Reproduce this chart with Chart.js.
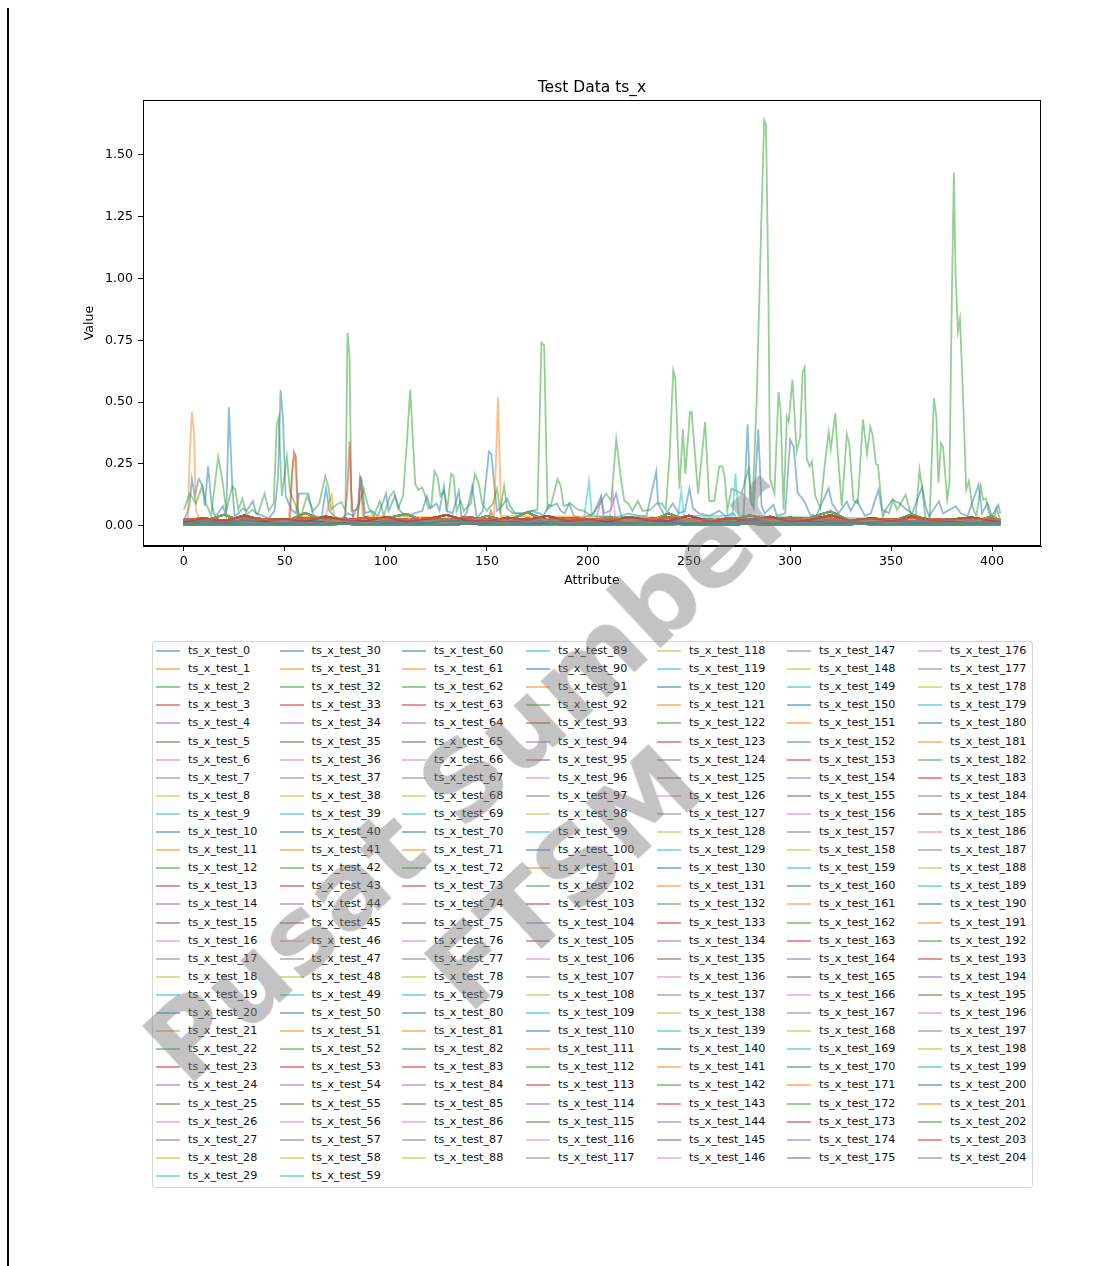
<!DOCTYPE html>
<html>
<head>
<meta charset="utf-8">
<title>Test Data ts_x</title>
<script src="https://cdn.jsdelivr.net/npm/chart.js@4/dist/chart.umd.min.js"></script>
<style>
  html, body { margin: 0; padding: 0; background: #fff; }
  #wrap { position: relative; width: 1114px; height: 1266px; overflow: hidden; background: #fff; }
  #edge { position: absolute; left: 7px; top: 8px; width: 2px; height: 1258px; background: #000; }
  #c { position: absolute; left: 0; top: 0; }
  #legend { position: absolute; left: 152px; top: 641px; width: 879px; height: 545px;
            border: 1px solid #d6d6d6; border-radius: 3px; background: #fff; }
  .lg-line { position: absolute; height: 2px; width: 24px; }
  .lg-text { position: absolute; font-family: "DejaVu Sans", sans-serif; font-size: 11.2px;
             line-height: 14px; color: #111; white-space: nowrap; }
  #mark { position: absolute; left: 517px; top: 828px; transform: translate(-50%, -50%) rotate(-43deg);
          font-family: "DejaVu Sans", sans-serif; font-weight: bold; font-size: 106px; line-height: 1.31;
          text-align: center; color: rgba(128, 128, 128, 0.47); white-space: nowrap; pointer-events: none; }
</style>
</head>
<body>
<div id="wrap">
  <div id="edge"></div>
  <canvas id="c" width="1114" height="620"></canvas>
  <div id="legend"></div>
  <div id="mark">Pusat Sumber<br>FTSM</div>
</div>
<script>
// ---- axis ticks ----
const xTicks = [0, 50, 100, 150, 200, 250, 300, 350, 400];
const yTicks = [0, 0.25, 0.5, 0.75, 1.0, 1.25, 1.5];

// ---- series names ----
const seriesCount = 205;
const seriesNames = Array.from({ length: seriesCount }, (_, i) => 'ts_x_test_' + i);

// ---- prominent series, [attribute, value] ----
const seriesGreen = [
  [0,0.065],[3,0.13],[6,0.09],[9,0.16],[11,0.09],[13.5,0.04],[17,0.28],[19,0.19],[21,0.06],[24,0.16],
  [25.5,0.145],[27,0.065],[29,0.11],[31,0.045],[34,0.065],[36.5,0.045],[40,0.13],[42,0.06],[44.5,0.09],
  [46,0.41],[47,0.44],[48.5,0.12],[51,0.28],[52.5,0.14],[55,0.09],[56,0.065],[58,0.04],[61,0.12],[64,0.06],
  [67,0.09],[70,0.2],[71.5,0.16],[73,0.065],[75.5,0.085],[78,0.095],[80,0.06],[81,0.78],[82,0.69],[83,0.06],
  [86,0.065],[89,0.15],[91.5,0.07],[94,0.04],[97,0.1],[99,0.04],[102,0.12],[104,0.14],[106,0.07],[108.5,0.12],
  [110.5,0.35],[112,0.55],[113.5,0.33],[114.5,0.17],[116,0.145],[118,0.155],[119.5,0.12],[121,0.07],[122.5,0.08],
  [124,0.22],[125.5,0.2],[127,0.12],[128.7,0.14],[130.4,0.07],[132.3,0.21],[133.5,0.2],[135,0.06],[137,0.1],
  [138.6,0.06],[142,0.09],[144,0.21],[146,0.17],[147.6,0.09],[150,0.06],[153,0.09],[155,0.15],[156.5,0.06],
  [158.5,0.16],[160,0.07],[163,0.05],[168,0.05],[171.7,0.06],[175,0.065],[177,0.74],[178.3,0.73],[180,0.065],
  [181.6,0.08],[185,0.19],[186.5,0.16],[188,0.08],[191.5,0.09],[195,0.065],[198,0.06],[201.5,0.04],[206,0.09],
  [209,0.13],[211.5,0.1],[214,0.35],[216.5,0.18],[218,0.1],[220,0.09],[222,0.06],[224.7,0.1],[227,0.06],
  [231,0.065],[234,0.09],[236.6,0.09],[238.5,0.065],[240.4,0.28],[242.2,0.63],[243.2,0.6],[245.3,0.15],
  [247,0.39],[248.2,0.21],[250.5,0.46],[251.3,0.46],[254.5,0.13],[258,0.42],[260,0.1],[262.5,0.1],[265,0.24],
  [266.5,0.24],[267.6,0.2],[269,0.06],[271,0.15],[276,0.13],[279.4,0.23],[281.4,0.08],[283.5,0.51],[285.7,1.2],
  [287.2,1.64],[288.1,1.62],[289.3,0.95],[290.1,0.19],[292.3,0.13],[294.3,0.54],[295.3,0.47],[296.8,0.065],
  [298.4,0.44],[299.3,0.42],[301.2,0.59],[303.3,0.3],[305,0.36],[306.2,0.62],[307.2,0.64],[308.3,0.27],
  [309.7,0.24],[310.8,0.26],[312.5,0.12],[315,0.07],[317.1,0.24],[319.1,0.38],[320.2,0.31],[322.4,0.455],
  [323.5,0.31],[325.6,0.08],[328.1,0.37],[329.3,0.33],[331.4,0.1],[333.5,0.09],[336.1,0.43],[338.1,0.29],
  [339.7,0.4],[340.8,0.37],[342.5,0.25],[343.5,0.245],[345.6,0.065],[349,0.05],[351,0.105],[353,0.065],
  [357.2,0.125],[359.7,0.05],[362.2,0.038],[364.1,0.227],[365.5,0.146],[367.1,0.024],[369.1,0.031],
  [371.2,0.516],[372.4,0.442],[373.4,0.173],[374.7,0.334],[375.7,0.32],[377.8,0.105],[378.9,0.173],
  [380,0.887],[381.1,1.429],[381.9,1.022],[383.1,0.786],[384.1,0.836],[385.2,0.617],[387.2,0.146],
  [388.5,0.18],[390.2,0.078],[392.2,0.038],[394.4,0.16],[395.5,0.105],[396.9,0.11],[398.5,0.05],
  [400.9,0.024],[402.1,0.071],[404,0.024]
];
const seriesBlue = [
  [0,0.017],[2.8,0.08],[4,0.19],[5.4,0.12],[7.4,0.19],[9.4,0.16],[10.4,0.08],[12,0.24],[13.7,0.09],[15.2,0.04],
  [17,0.05],[19.3,0.08],[21,0.04],[22.3,0.48],[24,0.16],[25.1,0.04],[27,0.05],[29.3,0.07],[31,0.06],[34.2,0.1],
  [35.8,0.05],[39,0.04],[42,0.03],[44.9,0.06],[46.6,0.19],[47.9,0.55],[49.1,0.43],[50.4,0.12],[53.2,0.065],
  [55.5,0.05],[57,0.13],[59.1,0.13],[61.6,0.13],[64.1,0.04],[68.2,0.035],[70.4,0.15],[72,0.06],[75,0.035],
  [78.2,0.03],[81,0.05],[84,0.04],[86.4,0.09],[87.2,0.2],[88.1,0.18],[89.7,0.05],[93,0.06],[96,0.04],
  [100.1,0.13],[101.3,0.06],[104.5,0.12],[107,0.06],[110,0.04],[114,0.05],[118,0.06],[120.3,0.12],[122,0.07],
  [125,0.09],[126.5,0.06],[128.7,0.16],[130,0.06],[133,0.05],[136.1,0.14],[137.5,0.03],[140,0.05],[142.7,0.16],
  [145,0.03],[148,0.06],[151,0.3],[152.2,0.29],[153.9,0.14],[155,0.06],[157.5,0.08],[160,0.11],[161.5,0.08],
  [164,0.05],[168,0.05],[172,0.06],[176,0.05],[178,0.04],[180.7,0.085],[182,0.08],[184.6,0.09],[186.5,0.06],
  [188.5,0.05],[190.7,0.09],[193,0.04],[197,0.03],[200,0.04],[203,0.05],[206.5,0.12],[208,0.05],[211,0.06],
  [213.9,0.13],[216.4,0.04],[220,0.05],[225,0.04],[229,0.04],[233.8,0.22],[234.7,0.09],[238,0.04],[242,0.09],
  [245,0.05],[248,0.06],[250.2,0.15],[252,0.07],[255,0.05],[260,0.04],[265,0.06],[268,0.04],[272,0.05],
  [274.4,0.02],[277,0.04],[279,0.41],[280.4,0.1],[282,0.07],[284.3,0.39],[285.9,0.08],[287.5,0.05],
  [291.8,0.085],[293.5,0.04],[297.6,0.05],[300.1,0.348],[301.8,0.32],[303.8,0.132],[305.9,0.112],[307.5,0.092],
  [309.9,0.045],[313,0.04],[316.5,0.105],[319.1,0.152],[320.7,0.092],[324,0.05],[328.1,0.098],[330,0.06],
  [333,0.105],[337,0.04],[340,0.05],[343.8,0.146],[346,0.038],[347.3,0.065],[350.6,0.105],[354,0.092],
  [357,0.07],[360.5,0.05],[365.4,0.159],[367.1,0.078],[368.8,0.038],[373.7,0.098],[375.7,0.05],[382,0.078],
  [384.5,0.05],[387.8,0.038],[393.3,0.166],[395,0.05],[397.7,0.092],[399.8,0.038],[403.1,0.085],[404,0.05]
];
const seriesOrange = [
  [0,0.02],[2,0.03],[3,0.3],[4,0.46],[5,0.38],[6,0.06],[8,0.02],[52,0.03],[54,0.26],[55,0.28],[56.5,0.04],
  [70,0.03],[72,0.1],[73.2,0.125],[74.5,0.03],[86,0.03],[87.5,0.18],[88.5,0.04],[153.5,0.03],[155.5,0.52],
  [157,0.04],[404,0.02]
];
const seriesBrown = [
  [0,0.015],[52.5,0.02],[53.5,0.2],[54.5,0.3],[55.5,0.28],[56.5,0.05],[58,0.02],[86,0.02],[87.5,0.2],
  [88.5,0.1],[89.5,0.02],[404,0.015]
];
const seriesRed = [
  [0,0.02],[79.5,0.025],[81,0.15],[82,0.34],[82.8,0.15],[83.8,0.025],[150.5,0.02],[152,0.06],[153.5,0.02],[404,0.02]
];
const seriesPurple = [
  [0,0.01],[204,0.02],[206.5,0.11],[208,0.02],[404,0.01]
];
const seriesPink = [
  [0,0.01],[210.5,0.02],[212.3,0.14],[213.5,0.03],[404,0.01]
];
const seriesCyan = [
  [0,0.02],[198,0.03],[200.5,0.18],[202,0.04],[244.5,0.03],[246.2,0.14],[247.5,0.04],[271.5,0.04],
  [273,0.21],[274.5,0.04],[404,0.02]
];

// ---- low-level band shared by the remaining series ----
const bandX = [0,10,20,30,40,50,60,70,80,90,100,110,120,130,140,150,160,170,180,190,200,
               210,220,230,240,250,260,270,280,290,300,310,320,330,340,350,360,370,380,390,400,404];
const bandProfiles = [
  [0.012,0.018,0.010,0.022,0.015,0.009,0.020,0.014,0.011,0.019,0.013,0.017,0.010,0.021,0.016,0.012,0.018,0.009,0.015,0.020,0.012,0.016,0.011,0.019,0.014,0.010,0.017,0.013,0.020,0.011,0.015,0.018,0.012,0.016,0.010,0.019,0.014,0.012,0.017,0.011,0.015,0.013],
  [0.025,0.030,0.022,0.034,0.027,0.024,0.031,0.026,0.021,0.033,0.028,0.023,0.030,0.025,0.035,0.027,0.022,0.029,0.024,0.032,0.026,0.030,0.023,0.028,0.034,0.025,0.021,0.031,0.027,0.024,0.033,0.026,0.029,0.022,0.030,0.025,0.032,0.027,0.023,0.029,0.026,0.024],
  [0.006,0.008,0.005,0.009,0.007,0.004,0.008,0.006,0.010,0.005,0.007,0.009,0.006,0.004,0.008,0.007,0.005,0.009,0.006,0.008,0.004,0.007,0.010,0.005,0.006,0.008,0.007,0.004,0.009,0.006,0.005,0.008,0.007,0.010,0.006,0.004,0.008,0.005,0.007,0.009,0.006,0.007],
  [0.015,0.030,0.018,0.042,0.020,0.028,0.016,0.038,0.022,0.019,0.035,0.017,0.026,0.044,0.021,0.018,0.033,0.024,0.040,0.019,0.027,0.016,0.036,0.023,0.020,0.041,0.018,0.029,0.022,0.037,0.017,0.025,0.043,0.020,0.031,0.018,0.039,0.021,0.026,0.034,0.019,0.022],
  [0.010,0.014,0.012,0.016,0.009,0.018,0.013,0.011,0.017,0.010,0.015,0.012,0.019,0.011,0.014,0.016,0.009,0.013,0.018,0.012,0.015,0.010,0.017,0.013,0.011,0.016,0.014,0.009,0.018,0.012,0.015,0.011,0.013,0.017,0.010,0.014,0.016,0.012,0.009,0.015,0.013,0.011],
  [0.020,0.024,0.018,0.027,0.022,0.019,0.026,0.021,0.029,0.017,0.023,0.025,0.019,0.028,0.021,0.024,0.018,0.026,0.022,0.020,0.027,0.019,0.025,0.023,0.018,0.028,0.021,0.024,0.020,0.026,0.022,0.019,0.027,0.023,0.021,0.025,0.018,0.024,0.022,0.026,0.020,0.023],
  [0.012,0.020,0.045,0.015,0.025,0.014,0.052,0.018,0.022,0.013,0.030,0.048,0.016,0.021,0.014,0.040,0.019,0.055,0.017,0.024,0.013,0.036,0.020,0.015,0.050,0.018,0.027,0.014,0.043,0.021,0.016,0.033,0.058,0.019,0.023,0.015,0.046,0.018,0.028,0.014,0.038,0.020],
  [0.005,0.003,0.007,0.004,0.006,0.009,0.004,0.005,0.008,0.003,0.006,0.004,0.007,0.005,0.010,0.004,0.006,0.003,0.008,0.005,0.004,0.007,0.006,0.003,0.009,0.005,0.004,0.006,0.008,0.004,0.005,0.007,0.003,0.006,0.012,0.004,0.005,0.008,0.004,0.006,0.005,0.004]
];

// ---- colours (tab10 cycle, half transparent) ----
const palette = ['31,119,180','255,127,14','44,160,44','214,39,40','148,103,189',
                 '140,86,75','227,119,194','127,127,127','188,189,34','23,190,207'];
const colorOf = i => 'rgba(' + palette[i % 10] + ',0.5)';

const featured = { 0: seriesBlue, 1: seriesOrange, 2: seriesGreen, 3: seriesRed,
                   4: seriesPurple, 5: seriesBrown, 6: seriesPink, 9: seriesCyan };

function pointsFor(i) {
  if (featured[i]) return featured[i].map(([x, y]) => ({ x, y }));
  const prof = bandProfiles[i % bandProfiles.length];
  return bandX.map((x, k) => ({ x, y: prof[k] }));
}

const datasets = seriesNames.map((name, i) => ({
  label: name,
  data: pointsFor(i),
  borderColor: colorOf(i),
  backgroundColor: colorOf(i),
  borderWidth: 1.8,
  pointRadius: 0,
  fill: false,
  tension: 0,
  order: seriesCount - 1 - i   // later series drawn on top
}));

Chart.defaults.font.family = '"DejaVu Sans", sans-serif';
Chart.defaults.color = '#000';

const frame = {
  id: 'frame',
  afterDraw(chart) {
    const { ctx, chartArea: a } = chart;
    ctx.save();
    ctx.strokeStyle = '#000';
    ctx.lineWidth = 1;
    ctx.strokeRect(Math.round(a.left) + 0.5, Math.round(a.top) + 0.5,
                   Math.round(a.right - a.left) - 1, Math.round(a.bottom - a.top) - 1);
    ctx.restore();
  }
};

const tickFont = { size: 12.6 };
new Chart(document.getElementById('c').getContext('2d'), {
  type: 'line',
  data: { datasets },
  plugins: [frame],
  options: {
    responsive: false,
    animation: false,
    devicePixelRatio: 1,
    events: [],
    layout: { padding: { left: 82.4, right: 73, top: 0, bottom: 31.4 } },
    plugins: {
      legend: { display: false },
      tooltip: { enabled: false },
      title: {
        display: true,
        fullSize: false,
        text: 'Test Data ts_x',
        color: '#000',
        font: { size: 15.5, weight: 'normal' },
        padding: { top: 78.7, bottom: 2.7 }
      }
    },
    scales: {
      x: {
        type: 'linear',
        min: -20.2,
        max: 424.2,
        afterBuildTicks: s => { s.ticks = xTicks.map(v => ({ value: v })); },
        afterFit: s => { s.height = 42.6; },
        grid: { display: true, drawOnChartArea: false, drawTicks: true, tickLength: 5, tickColor: '#000', tickWidth: 1 },
        border: { display: true, color: '#000', width: 1 },
        ticks: { color: '#000', font: tickFont, padding: 3, maxRotation: 0, autoSkip: false,
                 callback: v => String(v) },
        title: { display: true, text: 'Attribute', color: '#000', font: tickFont, padding: 0 }
      },
      y: {
        type: 'linear',
        min: -0.082,
        max: 1.722,
        afterBuildTicks: s => { s.ticks = yTicks.map(v => ({ value: v })); },
        afterFit: s => { s.width = 60.6; },
        grid: { display: true, drawOnChartArea: false, drawTicks: true, tickLength: 5, tickColor: '#000', tickWidth: 1 },
        border: { display: true, color: '#000', width: 1 },
        ticks: { color: '#000', font: tickFont, padding: 5, autoSkip: false,
                 callback: v => Number(v).toFixed(2) },
        title: { display: true, text: 'Value', color: '#000', font: tickFont, padding: 0 }
      }
    }
  }
});

// ---- legend: seven columns, filled top to bottom ----
const legendEl = document.getElementById('legend');
const colTextX = [188, 311.5, 434, 558, 689, 819, 950];
const rowTop = 651, rowStep = 18.1;
const boxLeft = 153, boxTop = 642;
seriesNames.forEach((name, i) => {
  let col, row;
  if (i < 60) { col = Math.floor(i / 30); row = i % 30; }
  else { col = 2 + Math.floor((i - 60) / 29); row = (i - 60) % 29; }
  const cy = rowTop + row * rowStep;
  const tx = colTextX[col];
  const line = document.createElement('div');
  line.className = 'lg-line';
  line.style.left = (tx - 32 - boxLeft) + 'px';
  line.style.top = (cy - 1 - boxTop) + 'px';
  line.style.background = colorOf(i);
  const text = document.createElement('div');
  text.className = 'lg-text';
  text.style.left = (tx - boxLeft) + 'px';
  text.style.top = (cy - 7 - boxTop) + 'px';
  text.textContent = name;
  legendEl.appendChild(line);
  legendEl.appendChild(text);
});
</script>
</body>
</html>
